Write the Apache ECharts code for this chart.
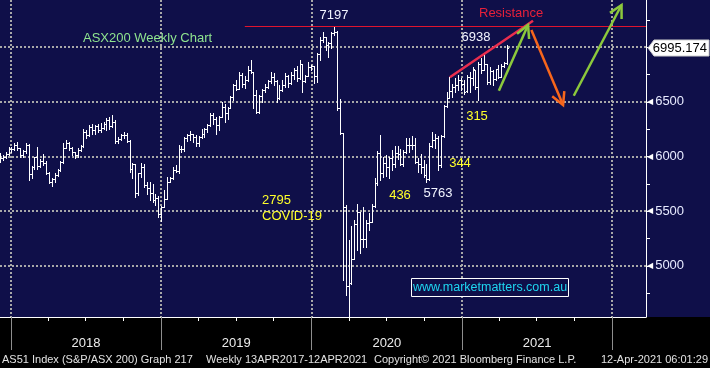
<!DOCTYPE html>
<html><head><meta charset="utf-8">
<script src="https://cdn.jsdelivr.net/npm/echarts@6/dist/echarts.min.js"></script>
<style>
html,body{margin:0;padding:0;background:#000;}
#c{width:710px;height:368px;background:linear-gradient(#0f0f49 0,#0f0f49 317px,#000 317px,#000 100%);}
</style>
</head><body><div id="c"></div>
<script>
// ---- data: ASX200 weekly OHLC (week bars, first bar week of 1 Dec 2017) ----
const firstBarDate = '2017-12-05';
const open = [
5990,5985,5995,6020,6070,6065,6110,6075,6010,6050,
6110,5840,5900,5995,5910,5955,5945,5850,5770,5790,
5830,5875,5950,6080,6120,6080,6040,6010,6060,6100,
6225,6195,6270,6245,6280,6240,6260,6300,6330,6280,
6320,6140,6160,6200,6195,6140,5885,5930,5665,5850,
5900,5735,5715,5667,5605,5625,5470,5540,5615,5770,
5800,5875,5865,6070,6065,6170,6200,6205,6175,6125,
6180,6210,6255,6285,6380,6345,6290,6365,6455,6395,
6445,6545,6650,6620,6750,6660,6700,6795,6770,6560,
6405,6555,6605,6640,6690,6730,6690,6540,6610,6650,
6735,6670,6750,6790,6720,6845,6690,6740,6820,6825,
6735,6940,7065,7090,7017,7040,7130,7140,6441,6217,
5539,4817,4842,5067,5387,5488,5242,5246,5391,5405,
5550,5755,6036,5847,5942,5905,5990,5930,6030,6020,
5928,6040,6110,6110,6110,5950,5930,5900,5830,5790,
6100,6150,6170,5927,6190,6460,6540,6600,6640,6650,
6700,6665,6595,6730,6715,6790,6640,6850,6790,6850,
6680,6780,6710,6800,6730,6830,6860];
const high = [
6030,6015,6040,6090,6085,6125,6135,6080,6060,6125,
6115,5910,6000,6085,5975,6025,5960,5860,5800,5845,
5890,5960,6120,6150,6135,6090,6045,6075,6110,6255,
6240,6285,6300,6290,6300,6310,6315,6350,6360,6380,
6330,6180,6210,6225,6215,6150,5940,5935,5850,5940,
5935,5765,5770,5750,5660,5640,5550,5690,5815,5815,
5905,5920,6105,6100,6180,6210,6235,6210,6200,6190,
6250,6265,6300,6395,6395,6360,6370,6500,6480,6450,
6555,6665,6700,6775,6760,6740,6830,6880,6775,6610,
6560,6620,6665,6700,6775,6760,6700,6650,6700,6760,
6745,6775,6810,6830,6880,6850,6750,6865,6840,6830,
6945,7095,7140,7095,7050,7140,7197,7145,6525,6217,
5560,5240,5365,5420,5570,5495,5540,5420,5480,5570,
5800,6050,6199,6000,6010,6000,6060,6100,6100,6070,
6060,6170,6170,6190,6170,5990,6025,5965,5935,6120,
6224,6210,6190,6200,6470,6592,6725,6668,6714,6744,
6714,6699,6744,6775,6820,6790,6866,6897,6938,6851,
6820,6790,6805,6836,6851,6866,7019];
const low = [
5950,5965,5990,6015,6040,6060,6060,6000,5995,6030,
5785,5800,5890,5890,5900,5925,5840,5760,5730,5770,
5825,5865,5945,6075,6060,6010,5985,6000,6050,6090,
6170,6185,6210,6210,6225,6225,6255,6240,6250,6270,
6120,6120,6150,6165,6135,5860,5800,5630,5645,5810,
5725,5660,5600,5585,5555,5450,5410,5535,5610,5765,
5790,5855,5850,6040,6055,6140,6150,6130,6095,6100,
6170,6180,6220,6280,6300,6210,6240,6360,6320,6340,
6440,6515,6610,6615,6640,6625,6690,6760,6440,6400,
6400,6500,6590,6630,6670,6650,6500,6530,6600,6640,
6640,6660,6710,6690,6710,6590,6680,6740,6790,6670,
6680,6885,7050,6975,6910,6990,7110,6430,6210,4870,
4730,4402,4830,5060,5145,5115,5175,5175,5330,5400,
5540,5740,5785,5810,5820,5800,5880,5900,5980,5920,
5910,6030,6040,6070,5940,5860,5845,5815,5763,5785,
6090,6080,5880,5900,6180,6455,6540,6546,6592,6607,
6607,6576,6590,6592,6653,6622,6520,6760,6790,6668,
6668,6653,6699,6714,6729,6820,6850];
const close = [
5985,5995,6020,6070,6065,6110,6075,6010,6050,6110,
5840,5900,5995,5910,5955,5945,5850,5770,5790,5830,
5875,5950,6080,6120,6080,6040,6010,6060,6100,6225,
6195,6270,6245,6280,6240,6260,6300,6330,6280,6320,
6140,6160,6200,6195,6140,5885,5930,5665,5850,5900,
5735,5715,5667,5605,5625,5470,5540,5615,5770,5800,
5875,5865,6070,6065,6170,6200,6205,6175,6125,6180,
6210,6255,6285,6380,6345,6290,6365,6455,6395,6445,
6545,6650,6620,6750,6660,6700,6795,6770,6560,6405,
6555,6605,6640,6690,6730,6690,6540,6610,6650,6735,
6670,6750,6790,6720,6845,6690,6740,6820,6825,6735,
6940,7065,7090,7017,7040,7130,7140,6441,6217,5539,
4817,4842,5067,5387,5488,5242,5246,5391,5405,5550,
5755,6036,5847,5942,5905,5990,5930,6030,6020,5928,
6040,6110,6110,6110,5950,5930,5900,5830,5790,6100,
6150,6170,5927,6190,6460,6540,6600,6640,6650,6700,
6665,6590,6730,6715,6800,6640,6850,6790,6850,6680,
6780,6710,6800,6730,6830,6860,6995.174];

const yearStarts = ['2018-01-01','2019-01-01','2020-01-01','2021-01-01','2022-01-01'];
const yearLabelDates = ['2018-07-02','2019-07-02','2020-07-02','2021-07-02'];
const quarterStarts = ['2018-01-01','2018-04-01','2018-07-01','2018-10-01','2019-01-01','2019-04-01','2019-07-01','2019-10-01',
  '2020-01-01','2020-04-01','2020-07-01','2020-10-01','2021-01-01','2021-04-01','2021-07-01','2021-10-01','2022-01-01'];
const yTickLabels = [5000, 5500, 6000, 6500];
const yMinorTicks = [4750,5000,5250,5500,5750,6000,6250,6500,6750,7000,7250];
const yGridValues = [5000,5500,6000,6500,7000];
const lastPrice = 6995.174;
const allTimeHigh = 7197;

// annotation anchors (date, index level)
const athLineStart = ['2019-07-23', allTimeHigh];
const resistanceLine = [['2020-12-02', 6725], ['2021-06-22', 7242]];
const arrowsDef = [
  {from:['2021-03-31', 6602], to:['2021-06-10', 7203], color:'#8cc83c'},
  {from:['2021-06-18', 7157], to:['2021-09-03', 6471], color:'#f7661c'},
  {from:['2021-09-29', 6556], to:['2022-01-23', 7386], color:'#8cc83c'}
];

// ---- chart ----
const D = s => Date.parse(s + 'T00:00:00Z');
const DAY = 86400000;
const xMin = D('2017-12-05') + 8 * 3600000;
const xMax = D('2022-03-23') + 10 * 3600000;
const yMin = 4532, yMax = 7432;

const t0 = D(firstBarDate);
const ohlc = open.map((o, i) => [t0 + i * 7 * DAY, o, high[i], low[i], close[i]]);

const chart = echarts.init(document.getElementById('c'));
const FONT = "'Liberation Sans', Arial, sans-serif";

chart.setOption({
  animation: false,
  backgroundColor: 'transparent',
  grid: {left: 0, right: 64, top: 0, bottom: 51, containLabel: false, outerBoundsMode: 'none'},
  xAxis: [
    {type: 'value', min: xMin, max: xMax, position: 'bottom', scale: true,
     axisLine: {show: true, lineStyle: {color: '#ffffff', width: 1}},
     axisTick: {show: true, customValues: quarterStarts.map(D), length: 4, lineStyle: {color: '#ffffff'}},
     axisLabel: {show: false}, splitLine: {show: false}},
    {type: 'value', min: xMin, max: xMax, position: 'bottom', scale: true,
     axisLine: {show: false},
     axisTick: {show: true, customValues: yearStarts.map(D), length: 33, lineStyle: {color: '#8e8e8e'}},
     axisLabel: {show: true, customValues: yearLabelDates.map(D), margin: 20,
       formatter: v => String(new Date(v).getUTCFullYear()),
       color: '#ececec', fontSize: 13, fontFamily: FONT},
     splitLine: {show: false}}
  ],
  yAxis: {
    type: 'value', position: 'right', min: yMin, max: yMax, scale: true,
    axisLine: {show: true, lineStyle: {color: '#ffffff', width: 1}},
    axisTick: {show: true, customValues: yMinorTicks, length: 4, lineStyle: {color: '#ffffff'}},
    axisLabel: {show: true, customValues: yTickLabels, margin: 1,
      formatter: v => '{t|◀}{v|' + v + '}',
      rich: {t: {fontFamily: 'DejaVu Sans', fontSize: 8, color: '#ffffff', padding: [0, 2, 0, 0]},
             v: {fontFamily: FONT, fontSize: 13, color: '#e8ebff'}}},
    splitLine: {show: false}
  },
  series: [{
    type: 'custom', xAxisIndex: 0, yAxisIndex: 0, clip: true, z: 3,
    data: ohlc,
    encode: {x: 0, y: [1, 2, 3, 4]},
    renderItem: function (params, api) {
      const t = api.value(0);
      const pH = api.coord([t, api.value(2)]);
      const pL = api.coord([t, api.value(3)]);
      const pO = api.coord([t, api.value(1)]);
      const pC = api.coord([t, api.value(4)]);
      const x = Math.round(pH[0]) + 0.5;
      const r = v => Math.round(v) + 0.5;
      const style = {stroke: '#ffffff', lineWidth: 1};
      return {type: 'group', children: [
        {type: 'line', shape: {x1: x, y1: Math.round(pH[1]), x2: x, y2: Math.round(pL[1]) + 1}, style: style},
        {type: 'line', shape: {x1: x - 1.5, y1: r(pO[1]), x2: x, y2: r(pO[1])}, style: style},
        {type: 'line', shape: {x1: x, y1: r(pC[1]), x2: x + 1.5, y2: r(pC[1])}, style: style}
      ]};
    }
  }]
});

// ---- decorations computed through the chart's own scales ----
const px = (t, v) => chart.convertToPixel({xAxisIndex: 0, yAxisIndex: 0}, [typeof t === 'string' ? D(t) : t, v]);
const gridRight = Math.round(px(xMax, yMin)[0]);
const gridBottom = Math.round(px(xMin, yMin)[1]);
const g = [];
const DOT = {stroke: '#a8a8a8', lineWidth: 2, lineDash: [2, 2]};

yGridValues.forEach(v => {
  const y = Math.round(px(xMin, v)[1]);
  g.push({type: 'line', z: 1, silent: true, shape: {x1: 0, y1: y, x2: gridRight, y2: y}, style: DOT});
});
yearStarts.forEach(s => {
  const x = Math.round(px(s, yMin)[0]);
  g.push({type: 'line', z: 1, silent: true, shape: {x1: x, y1: 0, x2: x, y2: gridBottom}, style: DOT});
});

// all-time-high line
{
  const a = px(athLineStart[0], athLineStart[1]);
  const y = Math.round(a[1]) + 0.5;
  g.push({type: 'line', z: 10, shape: {x1: a[0], y1: y, x2: gridRight, y2: y}, style: {stroke: '#e0142e', lineWidth: 1}});
}
// resistance line
{
  const a = px(resistanceLine[0][0], resistanceLine[0][1]);
  const b = px(resistanceLine[1][0], resistanceLine[1][1]);
  g.push({type: 'line', z: 10, shape: {x1: a[0], y1: a[1], x2: b[0], y2: b[1]}, style: {stroke: '#ea2d4e', lineWidth: 2.5}});
}
// arrows
arrowsDef.forEach(ar => {
  const a = px(ar.from[0], ar.from[1]);
  const b = px(ar.to[0], ar.to[1]);
  const dx = b[0] - a[0], dy = b[1] - a[1];
  const len = Math.hypot(dx, dy);
  const ux = dx / len, uy = dy / len;
  const L = 14, th = 28 * Math.PI / 180;
  const rot = (x, y, t) => [x * Math.cos(t) - y * Math.sin(t), x * Math.sin(t) + y * Math.cos(t)];
  const r1 = rot(ux, uy, th), r2 = rot(ux, uy, -th);
  const p1 = [b[0] - L * r1[0], b[1] - L * r1[1]];
  const p2 = [b[0] - L * r2[0], b[1] - L * r2[1]];
  const st = {stroke: ar.color, lineWidth: 2.5, fill: null, lineJoin: 'miter', lineCap: 'butt'};
  g.push({type: 'line', z: 10, shape: {x1: a[0], y1: a[1], x2: b[0], y2: b[1]}, style: st});
  g.push({type: 'polyline', z: 10, shape: {points: [p1, b, p2]}, style: st});
});

// price tag
{
  const y = Math.round(px(xMax, lastPrice)[1]);
  const x0 = gridRight + 2;
  g.push({type: 'polygon', z: 12, shape: {points: [[x0, y], [x0 + 6, y - 8], [709, y - 8], [709, y + 8], [x0 + 6, y + 8]]},
    style: {fill: '#ffffff', stroke: '#cfcfcf', lineWidth: 1}});
  g.push({type: 'text', z: 13, x: 707, y: y, style: {text: lastPrice.toFixed(3), fill: '#000000', font: '13px ' + FONT, align: 'right', verticalAlign: 'middle'}});
}

// text annotations
const texts = [
  {t: 'ASX200 Weekly Chart', x: 83, y: 38, c: '#8fe48f', a: 'left'},
  {t: '7197', x: 334, y: 15, c: '#f2f4ff', a: 'center'},
  {t: 'Resistance', x: 479, y: 13, c: '#e8203a', a: 'left'},
  {t: '6938', x: 476, y: 37, c: '#f2f4ff', a: 'center'},
  {t: '315', x: 477, y: 116, c: '#ffff2a', a: 'center'},
  {t: '344', x: 460, y: 163, c: '#ffff2a', a: 'center'},
  {t: '436', x: 400, y: 195, c: '#ffff2a', a: 'center'},
  {t: '5763', x: 438, y: 193, c: '#f2f4ff', a: 'center'},
  {t: '2795', x: 262, y: 200, c: '#ffff2a', a: 'left'},
  {t: 'COVID-19', x: 262, y: 216, c: '#ffff2a', a: 'left'}
];
texts.forEach(o => g.push({type: 'text', z: 12, x: o.x, y: o.y,
  style: {text: o.t, fill: o.c, font: '13px ' + FONT, align: o.a, verticalAlign: 'middle'}}));

// website box
g.push({type: 'rect', z: 12, shape: {x: 411.5, y: 278.5, width: 157, height: 18}, style: {fill: '#0f0f49', stroke: '#ffffff', lineWidth: 1}});
g.push({type: 'text', z: 13, x: 490, y: 288, style: {text: 'www.marketmatters.com.au', fill: '#1ed6f0', font: '12.5px ' + FONT, align: 'center', verticalAlign: 'middle'}});

// footer
const footer = [
  {t: 'AS51 Index (S&P/ASX 200) Graph 217', x: 2, a: 'left'},
  {t: 'Weekly 13APR2017-12APR2021', x: 206, a: 'left'},
  {t: 'Copyright\u00A9 2021 Bloomberg Finance L.P.', x: 374, a: 'left'},
  {t: '12-Apr-2021 06:01:29', x: 708, a: 'right'}
];
footer.forEach(o => g.push({type: 'text', z: 12, x: o.x, y: 360,
  style: {text: o.t, fill: '#e2e2e2', font: '11px ' + FONT, align: o.a, verticalAlign: 'middle'}}));

chart.setOption({graphic: {elements: g}});
</script>
</body></html>
